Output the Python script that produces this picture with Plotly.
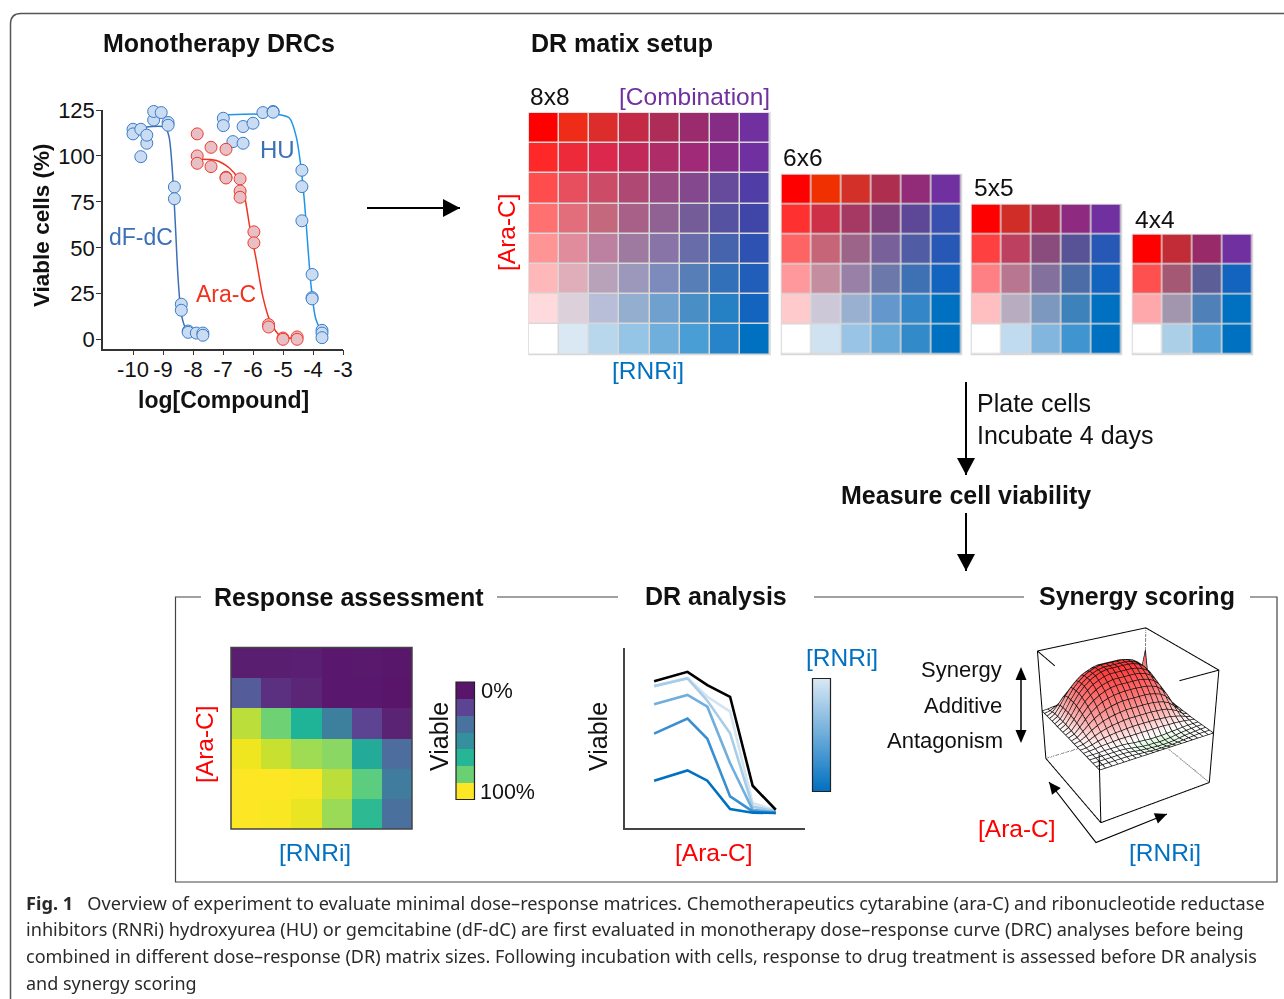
import math
import plotly.graph_objects as go

W, H = 1284, 999
FONT = "Liberation Sans"
RED, BLUE, PURPLE = "#ff0000", "#0070c0", "#7030a0"

# ---- Monotherapy dose-response data ----
dfdc_x = [-10, -10, -9.74, -9.74, -9.54, -9.54, -9.31, -9.31, -9.06, -8.83, -8.83, -8.62, -8.62, -8.39, -8.39, -8.16, -8.16, -7.89, -7.67, -7.67]
dfdc_y = [114.5, 112, 114.5, 99.6, 106.9, 111.3, 119.6, 124.2, 123.6, 118.2, 116.7, 83.1, 76.7, 19.3, 16, 4.7, 4, 3.6, 3.6, 2.4]
hu_x = [-6.99, -6.99, -6.67, -6.33, -6.33, -6.0, -5.67, -5.33, -5.33, -4.37, -4.37, -4.37, -4.03, -4.03, -4.03, -3.7, -3.7, -3.7]
hu_y = [120.5, 116.5, 107.8, 116, 106.9, 117.8, 123.6, 124.2, 123.8, 92.2, 83.3, 64.7, 35.5, 22.9, 22.2, 5.1, 3.6, 1.1]
arac_x = [-7.86, -7.86, -7.86, -7.4, -7.4, -6.9, -6.9, -6.9, -6.43, -6.43, -6.43, -5.97, -5.97, -5.48, -5.48, -5, -5, -4.53, -4.53]
arac_y = [112, 100, 96, 104.7, 94.2, 103.6, 88.4, 88, 87.5, 80.9, 77.5, 58.7, 52.7, 8.2, 6.9, 0.9, 0.2, 1.5, 0.2]
dfdc_fit_x = [-9.6, -8.93, -8.8, -8.69, -8.59, -8.5, -8.39, -8.24, -8.0, -7.67]
dfdc_fit_y = [115.6, 115.6, 110.5, 92.4, 63.3, 34.2, 14, 6, 2.7, 1.8]
hu_fit_x = [-6.83, -5.11, -4.78, -4.56, -4.39, -4.28, -4.17, -4.06, -3.91, -3.72]
hu_fit_y = [122.4, 122.4, 120.5, 110.5, 92.4, 74.2, 50.5, 28.7, 11.5, 4.2]
arac_fit_x = [-7.78, -7.22, -6.78, -6.5, -6.28, -6.11, -5.89, -5.67, -5.44, -5.11, -4.56]
arac_fit_y = [98.2, 97.5, 93.3, 87.8, 77.8, 61.5, 43.3, 23.3, 10.5, 2.4, 0.5]
drc_xticks = [-10, -9, -8, -7, -6, -5, -4, -3]
drc_xlabels = ["-10", "-9", "-8", "-7", "-6", "-5", "-4", "-3"]
drc_yticks = [0, 25, 50, 75, 100, 125]

# ---- Dose-response matrix colours ----
matrix_8 = [
    ["#FF0000", "#EE2C18", "#DC2C2C", "#C42A45", "#AE2C58", "#9A2C6E", "#862C84", "#7030A0"],
    ["#FF2828", "#EC2A3A", "#DC284C", "#C2285A", "#AE2C68", "#A02A78", "#882C8A", "#7030A0"],
    ["#FF4D4D", "#E84F5E", "#CC4C68", "#B04874", "#984A84", "#84488E", "#664A9C", "#503EA6"],
    ["#FF7070", "#E26E7C", "#C4687E", "#A86088", "#906294", "#745C98", "#5652A2", "#3F46A8"],
    ["#FF9494", "#E08C9C", "#BC80A0", "#9E7AA0", "#8874A6", "#686CA8", "#4664AE", "#2E52B2"],
    ["#FFB8BA", "#E0AEBA", "#B8A2BA", "#9C98BC", "#7C8ABC", "#587EB8", "#3270BA", "#205EBA"],
    ["#FFDADC", "#DCD0DA", "#B8BED8", "#94AED0", "#70A0CE", "#4A8EC6", "#2680C4", "#1264BE"],
    ["#FFFFFF", "#DAE8F4", "#B8D6EC", "#94C4E6", "#70AEDC", "#4A9ED6", "#2884CA", "#0070C0"],
]
matrix_6 = [
    ["#FF0000", "#F03000", "#D23028", "#AE2E50", "#922C78", "#7030A0"],
    ["#FF3030", "#CE3048", "#A63864", "#80407E", "#5C4896", "#3850B0"],
    ["#FF6464", "#C66478", "#9C6488", "#78609A", "#505CA4", "#2858B6"],
    ["#FF989C", "#C48EA0", "#9880A6", "#6C78AA", "#3E70B4", "#1264BE"],
    ["#FFCACC", "#CCC8D8", "#9AB0D0", "#6498CC", "#3386C8", "#0070C0"],
    ["#FFFFFF", "#CEE2F2", "#9AC4E6", "#66A8D8", "#338AC9", "#0070C0"],
]
matrix_5 = [
    ["#FF0000", "#D02C28", "#AE2C50", "#8E2B80", "#7030A0"],
    ["#FF4040", "#BE4060", "#8A4C7C", "#585296", "#2858B6"],
    ["#FF8084", "#B87690", "#84709C", "#4C6CA8", "#1264BE"],
    ["#FFBEC0", "#B8ACC0", "#7C98BE", "#3E82BC", "#0070C0"],
    ["#FFFFFF", "#C0DAEF", "#82B6DE", "#4094D0", "#0070C0"],
]
matrix_4 = [
    ["#FF0000", "#C22C36", "#982A6A", "#7030A0"],
    ["#FF5050", "#A45874", "#5C5E98", "#1264BE"],
    ["#FFA8AC", "#A296AE", "#5080B8", "#0070C0"],
    ["#FFFFFF", "#ACCFE8", "#54A0D6", "#0070C0"],
]

# ---- Response assessment ----
viability = [
    [5, 5, 6, 2, 3, 1],
    [30, 15, 10, 2, 2, 0],
    [88, 75, 60, 47, 25, 8],
    [96, 90, 83, 78, 58, 35],
    [100, 100, 99, 88, 73, 45],
    [100, 99, 95, 82, 63, 37],
]
viability_scale = [
    [0, "#58156a"], [0.1, "#5c2677"], [0.25, "#5c4492"], [0.33, "#4f6a9e"], [0.45, "#3f7c9e"],
    [0.5, "#3a869e"], [0.6, "#1fb398"], [0.73, "#5ccd7e"], [0.78, "#8ad863"], [0.85, "#a8dc4c"],
    [0.9, "#c8e030"], [0.96, "#f0e620"], [1, "#fde725"],
]
legend_steps = [["#58156a"], ["#5c4492"], ["#47739e"], ["#33909c"], ["#26b596"], ["#6bcf74"], ["#fde725"]]

# ---- DR analysis curves ----
dr_x = [16.4, 34.9, 45.9, 58.5, 71, 83.8]
dr_black = [81.3, 86.5, 79.2, 72.7, 23.4, 10.1]
dr_a = [78.6, 83.2, 72.7, 64.5, 13.8, 9.8]
dr_b = [78.6, 82.9, 70.5, 52.5, 11.9, 9.2]
dr_c = [68.5, 73.7, 67.2, 35.9, 10.1, 8.7]
dr_d = [52.3, 60.6, 49.4, 17.5, 9.2, 8.3]
dr_e = [26.2, 31.9, 26.2, 10.5, 8.5, 8.3]
dr_curves = [dr_a, dr_b, dr_c, dr_d, dr_e]
dr_colors = ["#d2e4f2", "#a8cde8", "#70aede", "#3a8fd0", "#0070c0"]

# ---- Synergy landscape ----
synergy = [
    [0]*21,
    [0,0,0,0,0,0,-.01,-.02,-.03,-.04,-.05,-.05,-.05,-.05,-.04,-.03,-.02,-.01,0,0,0],
    [0,0,0,0,0,0,-.01,-.03,-.05,-.06,-.07,-.08,-.08,-.08,-.07,-.05,-.03,-.02,-.01,0,0],
    [0,0,0,0,0,0,-.01,-.03,-.05,-.07,-.08,-.08,-.09,-.08,-.07,-.05,-.03,-.02,-.01,0,0],
    [0,0,0,.01,.01,.01,.01,0,-.02,-.03,-.04,-.05,-.05,-.05,-.04,-.03,-.02,-.01,0,0,0],
    [0,.01,.02,.04,.05,.06,.07,.07,.07,.07,.07,.07,.07,.07,.07,.06,.06,.05,.04,.02,0],
    [0,.01,.04,.08,.11,.13,.15,.16,.17,.18,.18,.18,.18,.18,.17,.16,.15,.12,.09,.04,0],
    [0,.02,.07,.13,.18,.22,.25,.27,.29,.30,.30,.30,.30,.30,.29,.28,.26,.21,.15,.06,.01],
    [0,.03,.10,.19,.26,.32,.36,.39,.41,.43,.43,.43,.43,.43,.42,.40,.37,.31,.21,.09,.01],
    [0,.04,.14,.25,.35,.42,.48,.52,.55,.57,.57,.57,.57,.57,.56,.53,.49,.41,.28,.12,.02],
    [0,.05,.17,.31,.43,.52,.59,.64,.67,.69,.70,.70,.70,.69,.68,.65,.60,.50,.35,.15,.02],
    [0,.06,.20,.36,.50,.60,.68,.74,.78,.80,.80,.80,.80,.80,.78,.75,.69,.58,.40,.18,.02],
    [0,.07,.22,.40,.55,.66,.75,.81,.85,.88,.88,.88,.88,.88,.86,.83,.76,.63,.44,.19,.03],
    [0,.08,.24,.43,.59,.71,.81,.87,.92,.95,.95,.95,.95,.95,.93,.89,.82,.68,.47,.21,.03],
    [0,.08,.25,.45,.62,.75,.85,.92,.97,1,1,1,1,1,.98,.94,.86,.72,.50,.22,.03],
    [0,.08,.25,.45,.62,.75,.85,.92,.97,1,1,1,1,1,.98,.94,.86,.72,.50,.22,.03],
    [0,.08,.25,.45,.62,.75,.85,.92,.97,1,1,1,1,1,.98,.94,.86,.72,.50,.22,.03],
    [0,.08,.24,.43,.59,.71,.81,.87,.92,.95,.95,.95,.95,.95,.93,.89,.82,.68,.47,.21,.03],
    [0,.06,.19,.34,.46,.56,.64,.69,.73,.75,.75,.75,.75,.75,.74,.71,.65,.54,.38,.17,.06],
    [0,.03,.10,.18,.25,.30,.34,.37,.39,.40,.40,.40,.40,.40,.39,.38,.34,.29,.20,.30,.25],
    [0,.01,.03,.05,.06,.08,.09,.09,.10,.10,.10,.10,.10,.10,.10,.09,.09,.07,.05,.25,.85],
]
SYN_TOP = 0.87
syn_scale = [[0, "#d4f5d4"], [0.09, "#ffffff"], [0.3, "#ffbcbc"], [0.65, "#ff7676"], [1, "#ff3a3a"]]
ZLO, ZHI = -1.03, 1.2
ZPAD = 0.11
GRID_LIFT = 0.012
# box edges in grid units; hidden edges stop where the surface covers them
box_x = [0, 20, None, 0, 0, None, 0, 0, None, 20, 20, None, 0, 0, None, 0, 20, 20, None, 0, 0, None, 20, 13]
box_y = [0, 0, None, 0, 20, None, 20, 20, None, 0, 0, None, 0, 0, None, 20, 20, 0, None, 20, 13.5, None, 0, 0]
box_z = [ZLO, ZLO, None, ZLO, ZLO, None, ZLO, ZHI, None, ZLO, ZHI, None, ZLO, 0.3, None, ZHI, ZHI, ZHI, None, ZHI, ZHI, None, ZHI, ZHI]
dot_x = [20, 20, 0, None, 20, 20]
dot_y = [0, 20, 20, None, 20, 20]
dot_z = [ZLO, ZLO, ZLO, None, ZHI, 0.3]

caption_lines = [
    ("<b>Fig. 1</b>   Overview of experiment to evaluate minimal dose–response matrices. Chemotherapeutics cytarabine (ara-C) and ribonucleotide reductase", 903, 18.2),
    ("inhibitors (RNRi) hydroxyurea (HU) or gemcitabine (dF-dC) are first evaluated in monotherapy dose–response curve (DRC) analyses before being", 929, 18.15),
    ("combined in different dose–response (DR) matrix sizes. Following incubation with cells, response to drug treatment is assessed before DR analysis", 956, 18),
    ("and synergy scoring", 983, 18),
]


def px(x):
    return x / W


def py(y):
    return 1 - y / H


fig = go.Figure()
layout = {}
annotations = []
shapes = []
axis_no = [0]


def new_axes(rect, xr, yr, xopts=None, yopts=None):
    axis_no[0] += 1
    n = axis_no[0]
    x0, y0, x1, y1 = rect
    xd = dict(domain=[px(x0), px(x1)], range=xr, anchor=f"y{n}", visible=False, fixedrange=True)
    yd = dict(domain=[py(y1), py(y0)], range=yr, anchor=f"x{n}", visible=False, fixedrange=True)
    xd.update(xopts or {})
    yd.update(yopts or {})
    layout[f"xaxis{n}"] = xd
    layout[f"yaxis{n}"] = yd
    return f"x{n}", f"y{n}"


def colour_cells(matrix, rect, gap):
    rows, cols = len(matrix), len(matrix[0])
    xa, ya = new_axes(rect, [-0.5, cols - 0.5], [rows - 0.5, -0.5])
    flat = [c for r in matrix for c in r]
    n = len(flat)
    scale = [[i / (n - 1), c] for i, c in enumerate(flat)]
    z = [[i * cols + j for j in range(cols)] for i in range(rows)]
    fig.add_trace(go.Heatmap(z=z, xaxis=xa, yaxis=ya, colorscale=scale, zmin=0, zmax=n - 1,
                             showscale=False, xgap=gap, ygap=gap, hoverinfo="skip"))


def text(x, y, s, size=24, color="#111111", bold=False, anchor="center", rot=0, font=FONT):
    annotations.append(dict(x=px(x), y=py(y), xref="paper", yref="paper", text=f"<b>{s}</b>" if bold else s,
                            showarrow=False, xanchor=anchor, yanchor="middle", textangle=rot,
                            font=dict(family=font, size=size, color=color), borderpad=0))


def line(points, color="#000000", width=1.5):
    d = "M " + " L ".join(f"{px(a):.5f} {py(b):.5f}" for a, b in points)
    shapes.append(dict(type="path", path=d, xref="paper", yref="paper", line=dict(color=color, width=width)))


def head(tip, tail, length, half):
    dx, dy = tip[0] - tail[0], tip[1] - tail[1]
    m = math.hypot(dx, dy)
    ux, uy = dx / m, dy / m
    bx, by = tip[0] - ux * length, tip[1] - uy * length
    pts = [tip, (bx - uy * half, by + ux * half), (bx + uy * half, by - ux * half)]
    d = "M " + " L ".join(f"{px(a):.5f} {py(b):.5f}" for a, b in pts) + " Z"
    shapes.append(dict(type="path", path=d, xref="paper", yref="paper", fillcolor="#000000",
                       line=dict(color="#000000", width=0)))


def arrow(tail, tip, length=17, half=9, width=2):
    line([tail, tip], width=width)
    head(tip, tail, length, half)


# ---- Monotherapy panel ----
drc_axis = dict(visible=True, showline=True, linecolor="#333333", linewidth=1.5, ticks="outside", ticklen=5,
                tickcolor="#333333", showgrid=False, zeroline=False, tickangle=0,
                tickfont=dict(family=FONT, size=22, color="#111111"))
xa, ya = new_axes((103, 110, 343, 348.5), [-11, -3], [-4.8, 125],
                  dict(drc_axis, tickvals=drc_xticks, ticktext=drc_xlabels, ticklabelstandoff=-5),
                  dict(drc_axis, tickvals=drc_yticks, ticklabelstandoff=-3))
for fx, fy, c in [(dfdc_fit_x, dfdc_fit_y, "#3b6fb6"), (hu_fit_x, hu_fit_y, "#1e96e8"), (arac_fit_x, arac_fit_y, "#f0321e")]:
    fig.add_trace(go.Scatter(x=fx, y=fy, xaxis=xa, yaxis=ya, mode="lines", line=dict(color=c, width=1.5, shape="spline", smoothing=0.8), hoverinfo="skip"))
for sx, sy, fill, edge in [(dfdc_x, dfdc_y, "#c9dcf2", "#3b7ccc"), (hu_x, hu_y, "#c9dcf2", "#3b7ccc"), (arac_x, arac_y, "#e9bfc6", "#ee3b2b")]:
    fig.add_trace(go.Scatter(x=sx, y=sy, xaxis=xa, yaxis=ya, mode="markers", cliponaxis=False,
                             marker=dict(size=12, color=fill, line=dict(color=edge, width=1)), hoverinfo="skip"))

# ---- Matrices ----
for m, rect in [(matrix_8, (529, 113, 770, 354.5)), (matrix_6, (781.5, 174.5, 961.5, 354.5)),
                (matrix_5, (971.5, 204.5, 1121.5, 354.5)), (matrix_4, (1132.5, 234.5, 1252.5, 354.5))]:
    shapes.append(dict(type="rect", x0=px(rect[0]), x1=px(rect[2]), y0=py(rect[3]), y1=py(rect[1]), layer="below",
                       xref="paper", yref="paper", fillcolor="#d8d8d8", line=dict(color="#d8d8d8", width=1.5)))
    colour_cells(m, rect, 1.5)

# ---- Response assessment ----
xa, ya = new_axes((231, 647.5, 412, 829), [-0.5, 5.5], [5.5, -0.5])
fig.add_trace(go.Heatmap(z=viability, xaxis=xa, yaxis=ya, colorscale=viability_scale, zmin=0, zmax=100,
                         showscale=False, hoverinfo="skip"))
shapes.append(dict(type="rect", x0=px(231), x1=px(412), y0=py(829), y1=py(647.5), xref="paper", yref="paper",
                   line=dict(color="#444444", width=1.5)))
colour_cells(legend_steps, (456, 682, 474.5, 799.5), 0)
shapes.append(dict(type="rect", x0=px(456), x1=px(474.5), y0=py(799.5), y1=py(682), xref="paper", yref="paper",
                   line=dict(color="#222222", width=1.2)))

# ---- DR analysis ----
dr_axis = dict(visible=True, showline=True, linecolor="#444444", linewidth=1.5, ticks="", showticklabels=False,
               showgrid=False, zeroline=False)
xa, ya = new_axes((624.5, 647.5, 805, 828), [0, 100], [0, 100], dr_axis, dr_axis)
for curve, c in zip(dr_curves, dr_colors):
    fig.add_trace(go.Scatter(x=dr_x, y=curve, xaxis=xa, yaxis=ya, mode="lines", line=dict(color=c, width=2.6), hoverinfo="skip"))
fig.add_trace(go.Scatter(x=dr_x, y=dr_black, xaxis=xa, yaxis=ya, mode="lines", line=dict(color="#000000", width=2.6), hoverinfo="skip"))
xa, ya = new_axes((812.5, 678.5, 830.5, 791.5), [0, 1], [0, 1])
fig.add_trace(go.Heatmap(x=[0, 1], y=[0, 1], z=[[1, 1], [0, 0]], xaxis=xa, yaxis=ya, zsmooth="best", showscale=False,
                         colorscale=[[0, "#d8e8f4"], [1, "#0070c0"]], hoverinfo="skip"))
shapes.append(dict(type="rect", x0=px(812.5), x1=px(830.5), y0=py(791.5), y1=py(678.5), xref="paper", yref="paper",
                   line=dict(color="#222222", width=1.2)))

# ---- Synergy landscape ----
SCENE = (966, 473, 1284, 963)
surface_z = [[v * SYN_TOP for v in row] for row in synergy]
fig.add_trace(go.Surface(z=surface_z, scene="scene", colorscale=syn_scale,
                         cmin=-0.09, cmax=SYN_TOP, showscale=False,
                         hoverinfo="skip", lighting=dict(ambient=0.95, diffuse=0.1, specular=0, roughness=1),
                         contours=dict(x=dict(highlight=False), y=dict(highlight=False), z=dict(highlight=False))))
grid_x, grid_y, grid_z = [], [], []
n_grid = len(surface_z)
for i in range(n_grid):
    for j in range(n_grid):
        grid_x.append(j); grid_y.append(i); grid_z.append(surface_z[i][j] + GRID_LIFT)
    grid_x.append(None); grid_y.append(None); grid_z.append(None)
for j in range(n_grid):
    for i in range(n_grid):
        grid_x.append(j); grid_y.append(i); grid_z.append(surface_z[i][j] + GRID_LIFT)
    grid_x.append(None); grid_y.append(None); grid_z.append(None)
fig.add_trace(go.Scatter3d(x=grid_x, y=grid_y, z=grid_z, mode="lines", line=dict(color="#111111", width=1.5), scene="scene", hoverinfo="skip", connectgaps=False))
fig.add_trace(go.Scatter3d(x=box_x, y=box_y, z=box_z, mode="lines", line=dict(color="#000000", width=2), scene="scene", hoverinfo="skip", connectgaps=False))
fig.add_trace(go.Scatter3d(x=dot_x, y=dot_y, z=dot_z, mode="lines", line=dict(color="#000000", width=2, dash="dot"), scene="scene", hoverinfo="skip", connectgaps=False))
hidden = dict(visible=False, showspikes=False)
layout["scene"] = dict(
    domain=dict(x=[px(SCENE[0]), px(SCENE[2])], y=[py(SCENE[3]), py(SCENE[1])]),
    xaxis=dict(hidden, range=[-1, 21]), yaxis=dict(hidden, range=[-1, 21]), zaxis=dict(hidden, range=[ZLO - ZPAD, ZHI + ZPAD]),
    aspectmode="cube", bgcolor="rgba(0,0,0,0)",
    camera=dict(eye=dict(x=-1.89, y=-3.22, z=2.1), up=dict(x=0, y=0, z=1), center=dict(x=0, y=0, z=0),
                projection=dict(type="perspective")),
)

# ---- Frames and arrows ----
shapes.append(dict(type="path", path=f"M {px(10.5)} {py(999)} L {px(10.5)} {py(24)} Q {px(10.5)} {py(13.5)} {px(21)} {py(13.5)} L {px(1284)} {py(13.5)}",
                   xref="paper", yref="paper", line=dict(color="#555555", width=1.5)))
line([(201, 597), (175.5, 597), (175.5, 882), (1277, 882), (1277, 597), (1250, 597)], color="#444444", width=1.2)
line([(497, 597), (618, 597)], color="#444444", width=1.2)
line([(814, 597), (1024, 597)], color="#444444", width=1.2)
arrow((367, 208), (460, 208))
arrow((966, 382), (966, 475))
arrow((966, 513), (966, 571))
line([(1021, 678), (1021, 730)], width=1.5)
head((1021, 667), (1021, 730), 13, 5.5)
head((1021, 743), (1021, 678), 13, 5.5)
line([(1049, 782), (1096, 842.5), (1167, 814)], width=1.2)
head((1049, 782), (1096, 842.5), 12, 5.5)
head((1167, 814), (1096, 842.5), 12, 5.5)

# ---- Labels ----
text(218.5, 43, "Monotherapy DRCs", 25, bold=True)
text(621.5, 43, "DR matix setup", 25, bold=True)
text(41, 225, "Viable cells (%)", 22.5, bold=True, rot=-90)
text(223, 400, "log[Compound]", 23, bold=True)
text(141, 237, "dF-dC", 23, "#3b6fb6")
text(277, 150, "HU", 24, "#3b6fb6")
text(226, 294, "Ara-C", 23, "#f0321e")
text(550, 96, "8x8", 24.5)
text(694, 96, "[Combination]", 24.5, PURPLE)
text(507, 232, "[Ara-C]", 24.5, RED, rot=-90)
text(648, 371, "[RNRi]", 24.5, BLUE)
text(803, 157, "6x6", 24.5)
text(994, 188, "5x5", 24.5)
text(1155, 219, "4x4", 24.5)
text(976, 403, "Plate cells", 25, anchor="left")
text(976, 435, "Incubate 4 days", 25, anchor="left")
text(966, 495, "Measure cell viability", 25, bold=True)
text(349, 597, "Response assessment", 25, bold=True)
text(716, 596, "DR analysis", 25, bold=True)
text(1137, 596, "Synergy scoring", 25, bold=True)
text(204, 744, "[Ara-C]", 24.5, RED, rot=-90)
text(315, 852, "[RNRi]", 24.5, BLUE)
text(439, 737, "Viable", 25, rot=-90)
text(480, 690, "0%", 22, anchor="left")
text(479, 792, "100%", 21.5, anchor="left")
text(598, 737, "Viable", 25, rot=-90)
text(714, 852, "[Ara-C]", 24.5, RED)
text(842, 657, "[RNRi]", 24.5, BLUE)
text(1003, 669, "Synergy", 22, anchor="right")
text(1003, 705, "Additive", 22, anchor="right")
text(1004, 740, "Antagonism", 22, anchor="right")
text(1017, 828, "[Ara-C]", 24.5, RED)
text(1165, 852, "[RNRi]", 24.5, BLUE)
for s, y, size in caption_lines:
    text(25, y, s, size, "#2a2a2a", anchor="left", font="Noto Sans")

fig.update_layout(width=W, height=H, margin=dict(l=0, r=0, t=0, b=0, autoexpand=False), paper_bgcolor="#ffffff",
                  plot_bgcolor="rgba(0,0,0,0)", showlegend=False, annotations=annotations, shapes=shapes, **layout)
fig.write_html("out.html", post_script="document.body.style.margin='0';", config=dict(displayModeBar=False))
